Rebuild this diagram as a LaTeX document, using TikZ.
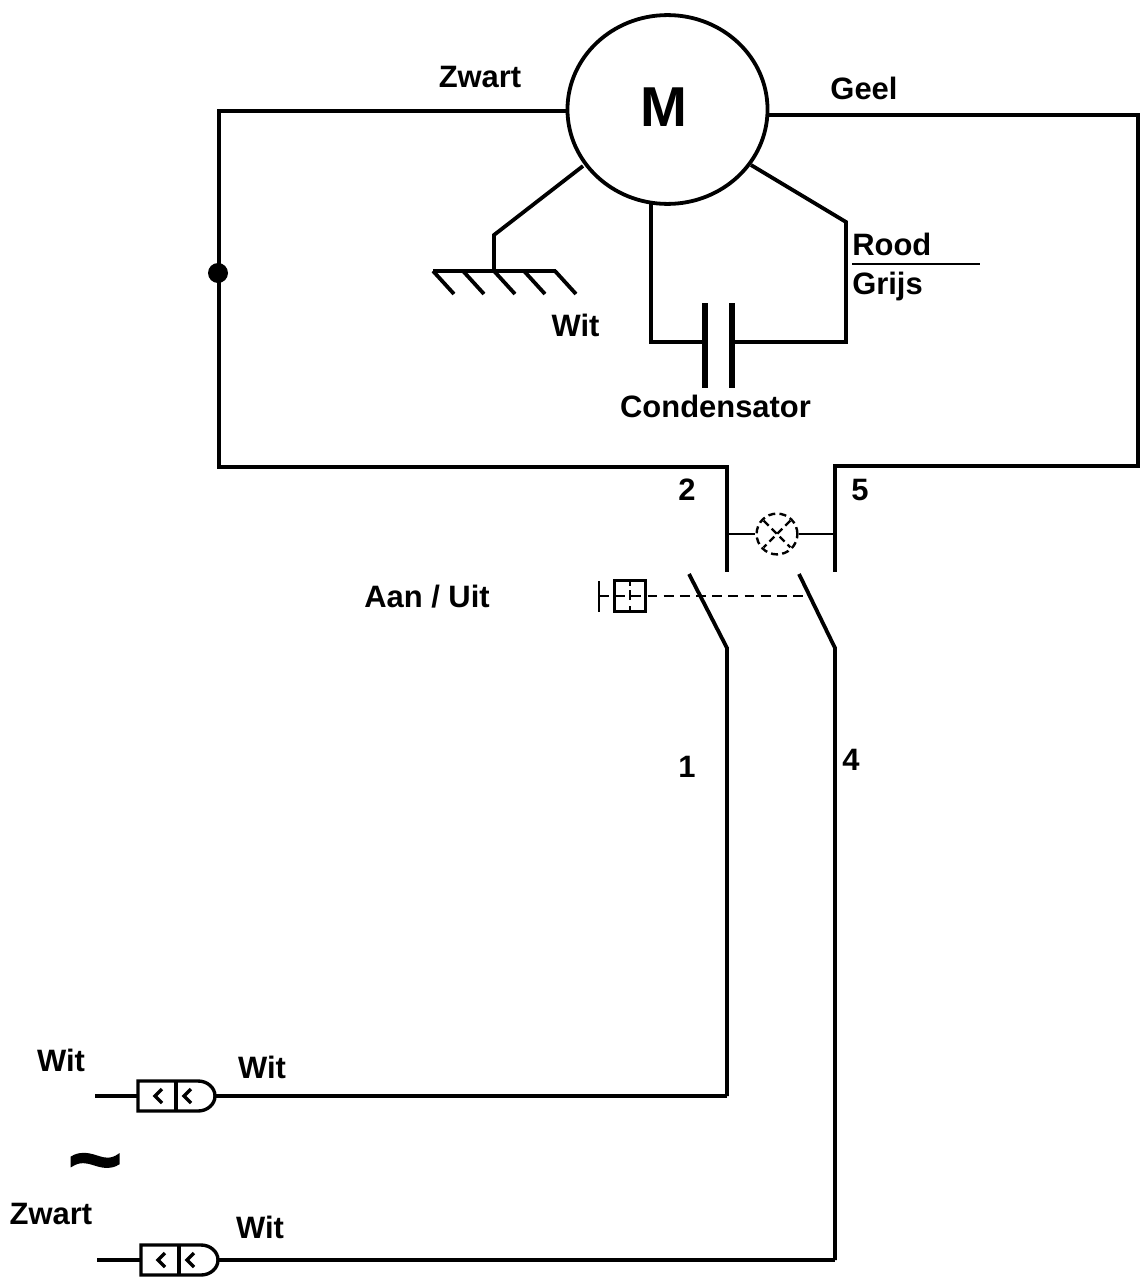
\documentclass[tikz,border=0pt]{standalone}
\usepackage{fontspec}
\setmainfont{Liberation Sans}
\usetikzlibrary{calc,shapes.geometric}
\tikzset{
    wire/.style={line width=2.7pt, line join=miter},
    thinwire/.style={line width=.9pt},
    plate/.style={line width=3.8pt},
    lbl/.style={font=\fontsize{22}{24}\selectfont\bfseries, inner sep=0pt},
    plug/.pic={
        \coordinate (-in) at (0,0);
        \coordinate (-out) at (77,0);
        \draw[line width=2.4pt] (0,-15) -- (60,-15) arc (-90:90:17 and 15) -- (0,15) -- cycle;
        \draw[line width=2.4pt] (38,-15) -- (38,15);
        \foreach \x in {24,53} {
            \draw[line width=2.4pt] (\x,-7) -- (\x-7,0) -- (\x,7);
        }
    }
}
\begin{document}
\begin{tikzpicture}[x=.025cm,y=-.025cm]
    \useasboundingbox (0,0) rectangle (1148,1282);
    % motor
    \node[ellipse, draw, line width=2.7pt, minimum width=5cm, minimum height=4.72cm, inner sep=0pt] (motor) at (667.5,109.5) {};
    \node[font=\fontsize{40}{44}\selectfont\bfseries, inner sep=0pt] (mlabel) at (663.5,107) {M};
    % corners of the wires
    \coordinate (zwartin) at (motor.west |- 0,111);
    \coordinate (geelin) at (motor.east |- 0,115);
    \coordinate (tl) at (219,111);
    \coordinate (bl) at (219,467);
    \coordinate (c2) at (727,467);
    \coordinate (t2) at (727,572);
    \coordinate (tr) at (1138,115);
    \coordinate (br) at (1138,466);
    \coordinate (c5) at (835,466);
    \coordinate (t5) at (835,572);
    \draw[wire] (zwartin) -- (tl) -- (bl) -- (c2) -- (t2);
    \draw[wire] (geelin) -- (tr) -- (br) -- (c5) -- (t5);
    \fill (218,273) circle (10) node (dot) {};
    % earth
    \coordinate (e1) at (583,166);
    \coordinate (e2) at (494,235);
    \coordinate (e3) at (494,270);
    \draw[wire] (e1) -- (e2) -- (e3);
    \draw[wire] (433,271) -- (556,271);
    \foreach \x in {433,463,494,524,555} {
        \draw[wire] (\x,271) -- (\x+21,294);
    }
    % condensator
    \coordinate (c1) at (651,203);
    \coordinate (c3) at (651,342);
    \coordinate (pl) at (705,342);
    \coordinate (pr) at (732,342);
    \coordinate (c4) at (846,342);
    \coordinate (c6) at (846,222);
    \coordinate (c7) at (751,165);
    \draw[wire] (c1) -- (c3) -- (pl);
    \draw[wire] (pr) -- (c4) -- (c6) -- (c7);
    \draw[plate] (705,303) -- (705,388);
    \draw[plate] (732,303) -- (732,388);
    \draw[thinwire] (852,264) -- (980,264);
    % lamp
    \node[circle, draw, dash pattern=on 5pt off 3pt, line width=1.7pt, minimum size=1.02cm, inner sep=0pt] (lamp) at (777,534) {};
    \draw[thinwire] (t2 |- lamp) -- (lamp.west);
    \draw[thinwire] (lamp.east) -- (t5 |- lamp);
    \draw[line width=1.7pt, dash pattern=on 5pt off 3pt] (lamp.north east) ++(-2,2) -- ($(lamp.south west)+(2,-2)$);
    \draw[line width=1.7pt, dash pattern=on 5pt off 3pt] (lamp.north west) ++(2,2) -- ($(lamp.south east)+(-2,-2)$);
    % switches
    \coordinate (s1a) at (689,574);
    \coordinate (s1b) at (727,648);
    \coordinate (s2a) at (799,574);
    \coordinate (s2b) at (835,648);
    \coordinate (end1) at (727,1096);
    \coordinate (end2) at (835,1260);
    \draw[wire] (s1a) -- (s1b) -- (end1);
    \draw[wire] (s2a) -- (s2b) -- (end2);
    % push button
    \node[draw, line width=1.7pt, minimum size=.775cm, inner sep=0pt] (knop) at (630,596) {};
    \draw[line width=1.8pt] (599,581) -- (599,612);
    \draw[thinwire, dash pattern=on 7pt off 4.5pt] (599,596) -- (808,596);
    \draw[line width=1.4pt] (knop.north) ++(0,1) -- ++(0,6);
    \draw[line width=1.4pt] (knop.south) ++(0,-1) -- ++(0,-6);
    \draw[line width=1.4pt] (630,590) -- (630,600);
    % plugs
    \coordinate (in1) at (95,1096);
    \coordinate (in2) at (97,1260);
    \pic (plugA) at (138,1096) {plug};
    \pic (plugB) at (141,1260) {plug};
    \draw[wire] (in1) -- (plugA-in);
    \draw[wire] (plugA-out) -- (end1);
    \draw[wire] (in2) -- (plugB-in);
    \draw[wire] (plugB-out) -- (end2);
    % labels
    \node[lbl] (zwart) at (480,77) {Zwart};
    \node[lbl] (geel) at (864,88) {Geel};
    \node[lbl, anchor=west] (rood) at (852,244) {Rood};
    \node[lbl, anchor=west] (grijs) at (852,286) {Grijs};
    \node[lbl] (witm) at (575.5,325) {Wit};
    \node[lbl] (cond) at (715.5,406) {Condensator};
    \node[lbl] (n2) at (687,490) {2};
    \node[lbl] (n5) at (860,490) {5};
    \node[lbl] (aan) at (427,597) {Aan / Uit};
    \node[lbl] (n1) at (687,767) {1};
    \node[lbl] (n4) at (851,760) {4};
    \node[lbl] (wit1) at (61,1060) {Wit};
    \node[lbl] (wit2) at (262,1067) {Wit};
    \node[lbl] (zwart2) at (51,1214) {Zwart};
    \node[lbl] (wit3) at (260,1227) {Wit};
    \node[font=\fontsize{60}{60}\selectfont\bfseries\addfontfeature{FakeBold=2}, inner sep=0pt, xscale=1.1] (tilde) at (95,1171) {\char`\~};
\end{tikzpicture}
\end{document}
